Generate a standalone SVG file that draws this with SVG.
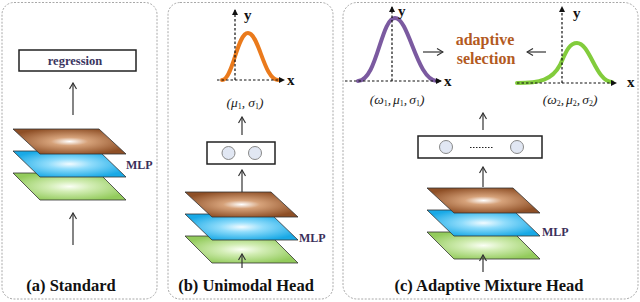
<svg xmlns="http://www.w3.org/2000/svg" width="640" height="302" viewBox="0 0 640 302">
<defs>
<style>
.panel{fill:#fff;stroke:#a8a8a8;stroke-width:1;stroke-dasharray:2 1.5}
.arr{stroke:#333;stroke-width:1.2;fill:none;marker-end:url(#open)}
.axis{stroke:#111;stroke-width:1.2;stroke-dasharray:2.5 2;fill:none;marker-end:url(#tri)}
.box{fill:#fff;stroke:#222;stroke-width:1.5}
.node{fill:#e1e7f3;stroke:#888;stroke-width:1}
.layer{stroke:#333;stroke-width:0.8}
.curve{fill:none;stroke-width:4;stroke-linecap:round}
text{font-family:'Liberation Serif','Times New Roman',serif}
.t{font-weight:bold}
.m{font-style:italic;font-size:13.5px;fill:#222}
.mlp{font-size:12px;fill:#3b2f5a}
.ax{font-size:15px;fill:#111}
.title{font-size:16.5px;fill:#111}
</style>
<marker id="open" viewBox="0 0 8 8" refX="7" refY="4" markerWidth="8" markerHeight="8" markerUnits="userSpaceOnUse" orient="auto">
<path d="M1,0.5 L7,4 L1,7.5" fill="none" stroke="#333" stroke-width="1.2"/>
</marker>
<marker id="tri" viewBox="0 0 6 6" refX="5" refY="3" markerWidth="6" markerHeight="6" markerUnits="userSpaceOnUse" orient="auto">
<path d="M0,0 L6,3 L0,6 Z" fill="#111"/>
</marker>
<radialGradient id="gBrown" cx="0.5" cy="0.5" r="0.55">
<stop offset="0" stop-color="#ffffff"/>
<stop offset="0.3" stop-color="#d6a27a"/>
<stop offset="1" stop-color="#8e4f26"/>
</radialGradient>
<radialGradient id="gBlue" cx="0.5" cy="0.5" r="0.55">
<stop offset="0" stop-color="#f2fbff"/>
<stop offset="0.35" stop-color="#8fdcfb"/>
<stop offset="1" stop-color="#19a9e6"/>
</radialGradient>
<radialGradient id="gGreen" cx="0.5" cy="0.5" r="0.55">
<stop offset="0" stop-color="#fbfff5"/>
<stop offset="0.35" stop-color="#d2edb4"/>
<stop offset="1" stop-color="#93cb5c"/>
</radialGradient>
<g id="stack">
<polygon class="layer" points="0,44 86,44 113,71 27,71" fill="url(#gGreen)"/>
<polygon class="layer" points="0,22 86,22 113,48 27,48" fill="url(#gBlue)"/>
<polygon class="layer" points="0,0 86,0 113,25 27,25" fill="url(#gBrown)"/>
</g>
</defs>

<g id="panel-a">
<rect class="panel" x="2" y="2.5" width="155" height="296.5" rx="12"/>
<rect class="box" x="19" y="50" width="117" height="21"/>
<text class="t" x="75" y="64.5" font-size="12.5" fill="#3a3560" text-anchor="middle">regression</text>
<use href="#stack" x="13" y="129"/>
<text class="t mlp" x="126" y="168.5">MLP</text>
<text class="t title" x="71" y="291" text-anchor="middle">(a) Standard</text>
</g>

<g id="panel-b">
<rect class="panel" x="168" y="2.5" width="165" height="296.5" rx="12"/>
<path class="curve" d="M222,80 C233,80 237,33 248,33 C259,33 264,80 278,80" stroke="#ea7a1c"/>
<text class="t ax" x="244" y="20">y</text>
<text class="t ax" x="287" y="85">x</text>
<text class="m" x="245" y="107" text-anchor="middle">(<tspan>μ</tspan><tspan font-size="8" dy="2" font-style="normal">1</tspan><tspan dy="-2">,</tspan><tspan dx="3">σ</tspan><tspan font-size="8" dy="2" font-style="normal">1</tspan><tspan dy="-2">)</tspan></text>
<rect class="box" x="207" y="142" width="68" height="22"/>
<circle class="node" cx="228.5" cy="153" r="6.5"/>
<circle class="node" cx="255" cy="153" r="6.5"/>
<use href="#stack" x="185" y="192"/>
<text class="t mlp" x="299" y="242">MLP</text>
<text class="t title" x="246" y="291" text-anchor="middle">(b) Unimodal Head</text>
</g>

<g id="panel-c">
<rect class="panel" x="343" y="2.5" width="295" height="296.5" rx="14"/>
<path class="curve" d="M358,81 C377,81 381,18 395,18 C409,18 417,81 437,81" stroke="#7b5aa0"/>
<text class="t ax" x="398" y="16">y</text>
<text class="t ax" x="444" y="86">x</text>
<text class="m" x="397" y="104" text-anchor="middle">(<tspan>ω</tspan><tspan font-size="8" dy="2" font-style="normal">1</tspan><tspan dy="-2">,</tspan><tspan dx="2">μ</tspan><tspan font-size="8" dy="2" font-style="normal">1</tspan><tspan dy="-2">,</tspan><tspan dx="2">σ</tspan><tspan font-size="8" dy="2" font-style="normal">1</tspan><tspan dy="-2">)</tspan></text>
<path class="curve" d="M517,83 C540,83 552,80 560,65 C566,52 569,43 577,43 C590,43 596,82 612,82" stroke="#82cc3c"/>
<text class="t ax" x="573" y="18">y</text>
<text class="t ax" x="627" y="87">x</text>
<text class="m" x="570" y="104" text-anchor="middle">(<tspan>ω</tspan><tspan font-size="8" dy="2" font-style="normal">2</tspan><tspan dy="-2">,</tspan><tspan dx="2">μ</tspan><tspan font-size="8" dy="2" font-style="normal">2</tspan><tspan dy="-2">,</tspan><tspan dx="2">σ</tspan><tspan font-size="8" dy="2" font-style="normal">2</tspan><tspan dy="-2">)</tspan></text>
<text class="t" x="485" y="45" font-size="16" fill="#b35a1f" text-anchor="middle">adaptive</text>
<text class="t" x="486" y="64" font-size="16" fill="#b35a1f" text-anchor="middle">selection</text>
<rect class="box" x="418" y="136" width="124" height="22"/>
<circle class="node" cx="446" cy="147" r="6.5"/>
<circle class="node" cx="517" cy="147" r="6.5"/>
<line x1="470" y1="147.5" x2="493" y2="147.5" stroke="#222" stroke-width="1.2" stroke-dasharray="1.5 1.5"/>
<use href="#stack" x="427" y="188"/>
<text class="t mlp" x="542" y="236">MLP</text>
<text class="t title" x="489" y="291" text-anchor="middle" fill="#e3201b">(c) Adaptive Mixture Head</text>
</g>

<g id="connectors">
<line class="arr" x1="73" y1="115" x2="73" y2="83"/>
<line class="arr" x1="73" y1="245" x2="73" y2="213"/>
<line class="axis" x1="235" y1="80" x2="235" y2="10"/>
<line class="axis" x1="217" y1="80" x2="284" y2="80"/>
<line class="arr" x1="242" y1="135" x2="242" y2="117"/>
<line class="arr" x1="242" y1="192" x2="242" y2="170"/>
<line class="arr" x1="242" y1="268" x2="242" y2="254"/>
<line class="axis" x1="392" y1="81" x2="392" y2="7"/>
<line class="axis" x1="345" y1="81" x2="441" y2="81"/>
<line class="axis" x1="562" y1="83" x2="562" y2="7"/>
<line class="axis" x1="517" y1="83" x2="616" y2="83"/>
<line class="arr" x1="423" y1="52" x2="443" y2="52"/>
<line class="arr" x1="546" y1="52" x2="527" y2="52"/>
<line class="arr" x1="483" y1="130" x2="483" y2="113"/>
<line class="arr" x1="483" y1="187" x2="483" y2="167"/>
<line class="arr" x1="483" y1="272" x2="483" y2="255"/>
</g>
</svg>
